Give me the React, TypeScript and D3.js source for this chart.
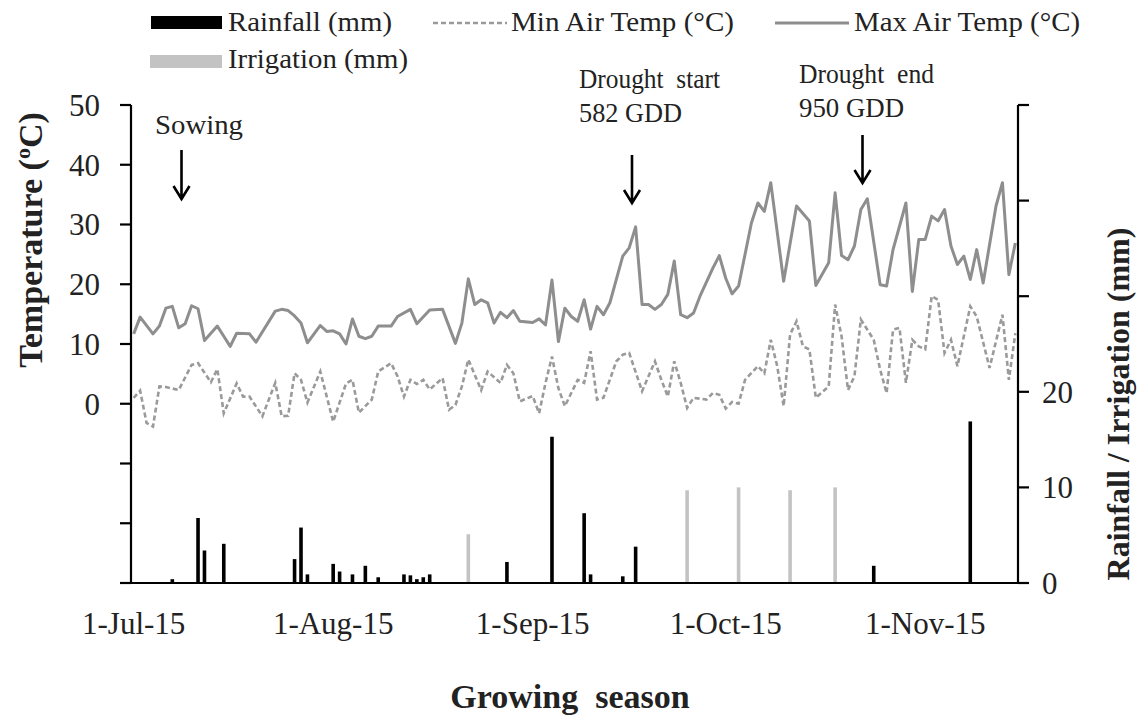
import React from 'react';
import * as d3 from 'd3';

// ---------- data ----------
const maxTempDates = [
  '2015-07-01','2015-07-02','2015-07-04','2015-07-05','2015-07-06','2015-07-07','2015-07-08','2015-07-09','2015-07-10','2015-07-11',
  '2015-07-12','2015-07-14','2015-07-15','2015-07-16','2015-07-17','2015-07-19','2015-07-20','2015-07-23','2015-07-24','2015-07-25',
  '2015-07-26','2015-07-27','2015-07-28','2015-07-30','2015-07-31','2015-08-01','2015-08-02','2015-08-03','2015-08-04','2015-08-05',
  '2015-08-06','2015-08-07','2015-08-08','2015-08-10','2015-08-11','2015-08-13','2015-08-14','2015-08-16','2015-08-18','2015-08-20',
  '2015-08-21','2015-08-22','2015-08-23','2015-08-24','2015-08-25','2015-08-26','2015-08-27','2015-08-28','2015-08-29','2015-08-30',
  '2015-09-01','2015-09-02','2015-09-03','2015-09-04','2015-09-05','2015-09-06','2015-09-07','2015-09-08','2015-09-09','2015-09-10',
  '2015-09-11','2015-09-12','2015-09-13','2015-09-15','2015-09-16','2015-09-17','2015-09-18','2015-09-19','2015-09-20','2015-09-21',
  '2015-09-22','2015-09-23','2015-09-24','2015-09-25','2015-09-26','2015-09-27','2015-09-29','2015-09-30','2015-10-01','2015-10-02',
  '2015-10-03','2015-10-05','2015-10-06','2015-10-07','2015-10-08','2015-10-10','2015-10-12','2015-10-14','2015-10-15','2015-10-17',
  '2015-10-18','2015-10-19','2015-10-20','2015-10-21','2015-10-22','2015-10-23','2015-10-25','2015-10-26','2015-10-27','2015-10-29',
  '2015-10-30','2015-10-31','2015-11-01','2015-11-02','2015-11-03','2015-11-04','2015-11-05','2015-11-06','2015-11-07','2015-11-08',
  '2015-11-09','2015-11-10','2015-11-12','2015-11-13','2015-11-14','2015-11-15',
];
const maxTempValues = [
  11.7, 14.5, 11.7, 13.0, 16.0, 16.3, 12.7, 13.4, 16.4, 15.9,
  10.6, 13.0, 11.3, 9.6, 11.8, 11.7, 10.3, 15.5, 15.8, 15.6,
  14.7, 13.5, 10.2, 13.1, 12.1, 12.2, 11.7, 10.0, 14.2, 11.3,
  10.9, 11.3, 13.0, 13.0, 14.6, 15.8, 13.4, 15.7, 15.8, 10.1,
  13.5, 20.9, 16.6, 17.4, 16.9, 13.5, 15.3, 14.4, 15.6, 13.8,
  13.6, 14.2, 13.2, 20.7, 10.4, 16.0, 14.6, 13.8, 17.4, 12.5,
  16.3, 14.9, 16.9, 24.7, 26.1, 29.6, 16.6, 16.6, 15.8, 16.6,
  18.3, 23.9, 14.9, 14.4, 15.2, 18.0, 22.7, 24.8, 21.0, 18.4,
  19.7, 30.3, 33.6, 32.2, 37.0, 20.5, 33.1, 30.6, 19.8, 23.6,
  35.3, 24.8, 24.1, 26.4, 32.5, 34.3, 19.9, 19.7, 25.8, 33.6,
  18.8, 27.5, 27.5, 31.4, 30.6, 32.5, 26.4, 23.3, 24.7, 20.8,
  25.8, 20.2, 33.1, 37.0, 21.6, 26.9,
];

const minTempDates = [
  '2015-07-01','2015-07-02','2015-07-03','2015-07-04','2015-07-05','2015-07-06','2015-07-08','2015-07-10','2015-07-11','2015-07-13',
  '2015-07-14','2015-07-15','2015-07-17','2015-07-18','2015-07-19','2015-07-21','2015-07-23','2015-07-24','2015-07-25','2015-07-26',
  '2015-07-27','2015-07-28','2015-07-30','2015-08-01','2015-08-03','2015-08-04','2015-08-05','2015-08-07','2015-08-08','2015-08-10',
  '2015-08-11','2015-08-12','2015-08-13','2015-08-14','2015-08-15','2015-08-16','2015-08-18','2015-08-19','2015-08-20','2015-08-21',
  '2015-08-22','2015-08-24','2015-08-25','2015-08-27','2015-08-28','2015-08-29','2015-08-30','2015-09-01','2015-09-02','2015-09-03',
  '2015-09-04','2015-09-05','2015-09-06','2015-09-08','2015-09-09','2015-09-10','2015-09-11','2015-09-12','2015-09-14','2015-09-15',
  '2015-09-16','2015-09-18','2015-09-19','2015-09-20','2015-09-21','2015-09-22','2015-09-23','2015-09-24','2015-09-25','2015-09-26',
  '2015-09-28','2015-09-29','2015-09-30','2015-10-01','2015-10-02','2015-10-03','2015-10-04','2015-10-06','2015-10-07','2015-10-08',
  '2015-10-09','2015-10-10','2015-10-11','2015-10-12','2015-10-13','2015-10-14','2015-10-15','2015-10-17','2015-10-18','2015-10-19',
  '2015-10-20','2015-10-21','2015-10-22','2015-10-24','2015-10-25','2015-10-26','2015-10-27','2015-10-28','2015-10-29','2015-10-30',
  '2015-10-31','2015-11-01','2015-11-02','2015-11-03','2015-11-04','2015-11-05','2015-11-06','2015-11-08','2015-11-09','2015-11-11',
  '2015-11-13','2015-11-14','2015-11-15',
];
const minTempValues = [
  1.0, 2.2, -3.2, -3.8, 2.9, 2.8, 2.3, 6.5, 6.8, 3.6,
  5.8, -1.6, 3.4, 1.2, 1.2, -2.1, 3.5, -2.1, -2.0, 5.1,
  4.0, 0.2, 5.4, -3.0, 3.4, 4.0, -1.5, 0.7, 5.4, 6.8,
  4.6, 1.2, 4.0, 3.3, 4.0, 2.4, 4.3, -1.0, -0.2, 2.9,
  7.4, 2.3, 5.4, 3.5, 6.5, 5.1, 0.4, 1.3, -1.6, 3.5,
  7.9, 2.6, -0.4, 4.0, 3.5, 8.8, 0.7, 1.0, 7.1, 8.2,
  8.5, 2.1, 4.6, 7.1, 4.0, 1.2, 7.1, 3.5, -0.7, 1.0,
  0.7, 1.8, 1.5, -0.8, 0.3, 0.0, 4.0, 6.3, 5.1, 10.7,
  6.3, -0.4, 11.6, 13.8, 9.6, 9.1, 1.0, 2.9, 16.6, 11.3,
  2.3, 4.6, 14.1, 10.7, 5.7, 1.8, 12.4, 12.7, 3.5, 10.7,
  9.6, 9.1, 18.0, 17.4, 8.5, 10.7, 6.3, 16.3, 14.6, 6.0,
  14.9, 4.0, 11.8,
];

const rainDates = [
  '2015-07-07','2015-07-11','2015-07-12','2015-07-15','2015-07-26','2015-07-27','2015-07-28','2015-08-01','2015-08-02','2015-08-04',
  '2015-08-06','2015-08-08','2015-08-12','2015-08-13','2015-08-14','2015-08-15','2015-08-16','2015-08-28','2015-09-04','2015-09-09',
  '2015-09-10','2015-09-15','2015-09-17','2015-10-24','2015-11-08',
];
const rainValues = [
  0.4, 6.8, 3.4, 4.1, 2.5, 5.8, 0.9, 2.0, 1.2, 0.9,
  1.8, 0.6, 0.9, 0.8, 0.4, 0.6, 0.9, 2.2, 15.3, 7.3,
  0.9, 0.7, 3.8, 1.8, 16.9,
];

const irrigationDates = ['2015-08-22', '2015-09-25', '2015-10-03', '2015-10-11', '2015-10-18'];
const irrigationValues = [5.1, 9.7, 10.0, 9.7, 10.0];

const xTickDates = ['2015-07-01', '2015-08-01', '2015-09-01', '2015-10-01', '2015-11-01'];
const tempTicks = [-30, -20, -10, 0, 10, 20, 30, 40, 50];
const tempTickLabels = [0, 10, 20, 30, 40, 50];
const rainTicks = [0, 10, 20, 30, 40, 50];
const rainTickLabels = [0, 10, 20];

const annotationLines = [['Sowing'], ['Drought  start', '582 GDD'], ['Drought  end', '950 GDD']];

// ---------- chart ----------
const W = 1138;
const H = 720;
const plot = { left: 131, right: 1018, top: 105, bottom: 583 };
const SERIF = "'Liberation Serif', 'Times New Roman', serif";

const parse = d3.timeParse('%Y-%m-%d');

export default function App() {
  const allDates = [...maxTempDates, ...minTempDates].map((s) => parse(s) as Date);
  const [d0, d1] = d3.extent(allDates) as [Date, Date];
  const x = d3
    .scaleTime()
    .domain([d3.timeHour.offset(d0, -10), d3.timeHour.offset(d1, 10)])
    .range([plot.left, plot.right]);
  const yT = d3.scaleLinear().domain([-30, 50]).range([plot.bottom, plot.top]);
  const yR = d3.scaleLinear().domain([0, 50]).range([plot.bottom, plot.top]);

  const line = d3
    .line<[Date, number]>()
    .x((d) => x(d[0]))
    .y((d) => yT(d[1]));

  const maxPts = maxTempDates.map((s, i) => [parse(s) as Date, maxTempValues[i]] as [Date, number]);
  const minPts = minTempDates.map((s, i) => [parse(s) as Date, minTempValues[i]] as [Date, number]);
  const fmt = d3.timeFormat('%-d-%b-%y');

  const barW = 3.6;
  const tickLen = 11;

  const arrowTops = [150, 155, 135];
  const arrowTips = [199, 203, 183];
  const annoText = [
    { x: 155, ys: [134], w: [88] },
    { x: 579, ys: [88, 122], w: [141, 103] },
    { x: 799, ys: [83, 117], w: [135, 105] },
  ];
  const arrowX = [181.5, 632, 862.5];
  const txt: React.CSSProperties = { fontFamily: SERIF, fill: '#222' };

  return (
    <svg
      width={W}
      height={H}
      viewBox={`0 0 ${W} ${H}`}
      style={{ position: 'absolute', left: 0, top: 0, background: '#fff' }}
    >
      <rect x={0} y={0} width={W} height={H} fill="#fff" />

      {/* bars */}
      {irrigationDates.map((s, i) => {
        const cx = x(parse(s) as Date);
        return (
          <rect
            key={'ir' + i}
            x={cx - barW / 2}
            y={yR(irrigationValues[i])}
            width={barW}
            height={yR(0) - yR(irrigationValues[i])}
            fill="#c3c3c3"
          />
        );
      })}
      {rainDates.map((s, i) => {
        const cx = x(parse(s) as Date);
        return (
          <rect
            key={'rn' + i}
            x={cx - barW / 2}
            y={yR(rainValues[i])}
            width={barW}
            height={yR(0) - yR(rainValues[i])}
            fill="#000"
          />
        );
      })}

      {/* lines */}
      <path d={line(minPts) || ''} fill="none" stroke="#9a9a9a" strokeWidth={2.6} strokeDasharray="5,3" />
      <path d={line(maxPts) || ''} fill="none" stroke="#8e8e8e" strokeWidth={3} strokeLinejoin="round" />

      {/* left axis */}
      <line x1={plot.left} x2={plot.left} y1={plot.top} y2={plot.bottom} stroke="#000" strokeWidth={2.2} />
      {tempTicks.map((t) => (
        <line key={'lt' + t} x1={plot.left - tickLen} x2={plot.left} y1={yT(t)} y2={yT(t)} stroke="#000" strokeWidth={2.2} />
      ))}
      {tempTickLabels.map((t) => (
        <text key={'ll' + t} x={100} y={yT(t)} dy="0.35em" textAnchor="end" fontSize={31} style={txt}>
          {t}
        </text>
      ))}

      {/* right axis */}
      <line x1={plot.right} x2={plot.right} y1={plot.top} y2={plot.bottom} stroke="#000" strokeWidth={2.2} />
      {rainTicks.map((t) => (
        <line key={'rt' + t} x1={plot.right} x2={plot.right + tickLen} y1={yR(t)} y2={yR(t)} stroke="#000" strokeWidth={2.2} />
      ))}
      {rainTickLabels.map((t) => (
        <text key={'rl' + t} x={1042} y={yR(t)} dy="0.35em" textAnchor="start" fontSize={31} style={txt}>
          {t}
        </text>
      ))}

      {/* bottom axis */}
      <line x1={plot.left - tickLen} x2={plot.right + tickLen} y1={plot.bottom} y2={plot.bottom} stroke="#000" strokeWidth={2.2} />
      {xTickDates.map((s) => {
        const dt = parse(s) as Date;
        return (
          <text key={'xl' + s} x={x(dt)} y={634} textAnchor="middle" fontSize={31} style={txt}>
            {fmt(dt)}
          </text>
        );
      })}

      {/* axis titles */}
      <text transform="translate(42,240) rotate(-90)" textAnchor="middle" fontSize={34} fontWeight="bold" style={txt}>
        Temperature (<tspan dy={-12} fontSize={22}>o</tspan>
        <tspan dy={12}>C)</tspan>
      </text>
      <text transform="translate(1129,404) rotate(-90)" textAnchor="middle" fontSize={32} fontWeight="bold" style={txt}>
        Rainfall / Irrigation (mm)
      </text>
      <text x={570} y={708} textAnchor="middle" fontSize={34} fontWeight="bold" style={{ ...txt, whiteSpace: 'pre' }}>
        {'Growing  season'}
      </text>

      {/* annotations */}
      {annotationLines.map((lines, i) => (
        <g key={'an' + i}>
          {lines.map((ln, j) => (
            <text
              key={j}
              x={annoText[i].x}
              y={annoText[i].ys[j]}
              fontSize={27}
              textLength={annoText[i].w[j]}
              lengthAdjust="spacingAndGlyphs"
              style={{ ...txt, whiteSpace: 'pre' }}
            >
              {ln}
            </text>
          ))}
          <path
            d={`M${arrowX[i]},${arrowTops[i]} L${arrowX[i]},${arrowTips[i]} M${arrowX[i] - 8},${arrowTips[i] - 13} L${arrowX[i]},${arrowTips[i]} L${arrowX[i] + 8},${arrowTips[i] - 13}`}
            fill="none"
            stroke="#000"
            strokeWidth={2.6}
          />
        </g>
      ))}

      {/* legend */}
      <rect x={151} y={16} width={71} height={13} fill="#000" />
      <text x={228} y={31} fontSize={27} textLength={164} lengthAdjust="spacingAndGlyphs" style={txt}>
        Rainfall (mm)
      </text>
      <line x1={433} x2={507} y1={23} y2={23} stroke="#9a9a9a" strokeWidth={2.6} strokeDasharray="5,3" />
      <text x={511} y={31} fontSize={27} textLength={223} lengthAdjust="spacingAndGlyphs" style={txt}>
        Min Air Temp (°C)
      </text>
      <line x1={775} x2={849} y1={23} y2={23} stroke="#8e8e8e" strokeWidth={3} />
      <text x={854} y={31} fontSize={27} textLength={226} lengthAdjust="spacingAndGlyphs" style={txt}>
        Max Air Temp (°C)
      </text>
      <rect x={150} y={55} width={72} height={13} fill="#c3c3c3" />
      <text x={228} y={68} fontSize={27} textLength={180} lengthAdjust="spacingAndGlyphs" style={txt}>
        Irrigation (mm)
      </text>
    </svg>
  );
}
